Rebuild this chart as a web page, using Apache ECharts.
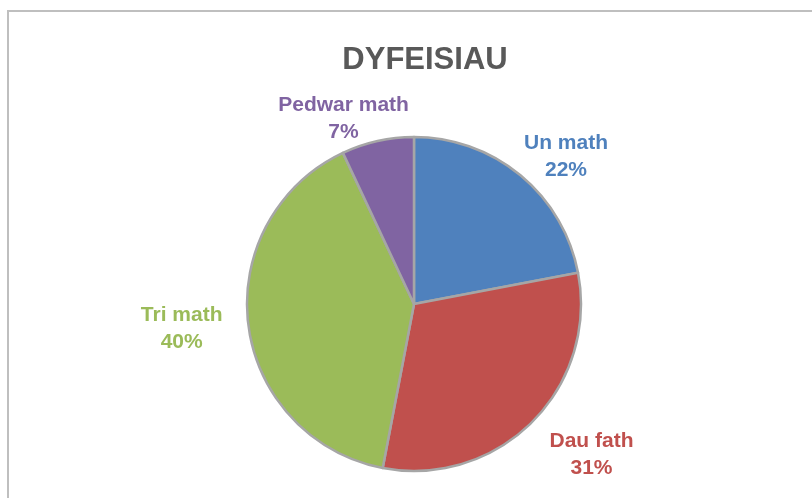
<!DOCTYPE html>
<html>
<head>
<meta charset="UTF-8">
<title>DYFEISIAU</title>
<script src="https://cdn.jsdelivr.net/npm/echarts@6/dist/echarts.min.js"></script>
<style>
html,body{margin:0;padding:0;background:#fff;}
#chart{width:812px;height:498px;}
</style>
</head>
<body>
<div id="chart"></div>
<script type="text/javascript">
// data
var categories = ['Un math', 'Dau fath', 'Tri math', 'Pedwar math'];
var values = [22, 31, 40, 7];
var colors = ['#4F81BD', '#C0504D', '#9BBB59', '#8064A2'];
// label nudges (px), matching where the original puts each label
var labelShift = [[-18, 1], [-6, 14], [5, 1], [42, 3]];

var pieData = [];
for (var i = 0; i < categories.length; i++) {
	pieData.push({
		name: categories[i],
		value: values[i],
		itemStyle: {color: colors[i]},
		label: {color: colors[i]}
	});
}

var mychart = echarts.init(document.getElementById('chart'));
var option = {
	animation: false,
	title: {
		text: 'DYFEISIAU',
		left: 420,
		top: 40,
		textAlign: 'center',
		textStyle: {fontFamily: 'Liberation Sans', fontSize: 31, fontWeight: 'bold', color: '#595959'}
	},
	graphic: [{
		type: 'polyline',
		shape: {points: [[8, 498], [8, 11], [812, 11]]},
		style: {stroke: '#bfbfbf', lineWidth: 2, fill: null},
		silent: true
	}],
	series: [{
		type: 'pie',
		center: [414, 304],
		radius: 167,
		startAngle: 90,
		clockwise: true,
		avoidLabelOverlap: false,
		itemStyle: {borderColor: '#a6a6a6', borderWidth: 2.5},
		label: {
			show: true,
			position: 'outside',
			formatter: '{b}\n{d}%',
			fontFamily: 'Liberation Sans',
			fontSize: 21,
			fontWeight: 'bold',
			lineHeight: 27
		},
		labelLine: {show: false, length: 26, length2: 0},
		labelLayout: function(p){
			var s = labelShift[p.dataIndex];
			return {
				x: p.labelRect.x + p.labelRect.width / 2 + s[0],
				y: p.labelRect.y + p.labelRect.height / 2 + s[1],
				align: 'center',
				verticalAlign: 'middle'
			};
		},
		emphasis: {disabled: true},
		data: pieData
	}]
};
mychart.setOption(option);
</script>
</body>
</html>
